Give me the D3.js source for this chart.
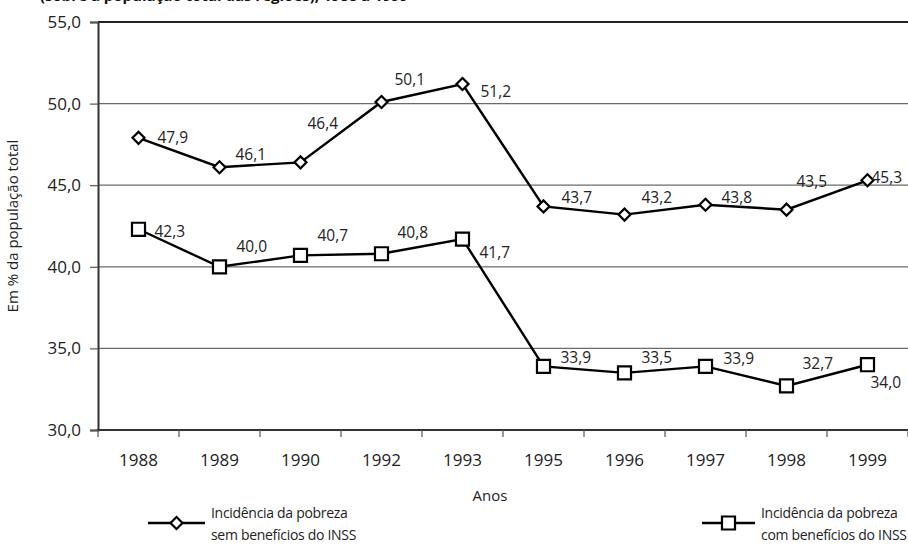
<!DOCTYPE html>
<html>
<head>
<meta charset="utf-8">
<script src="https://cdn.jsdelivr.net/npm/d3@7"></script>
<style>
  body { margin: 0; background: #fff; }
  svg { display: block; font-family: "Open Sans", sans-serif; }
</style>
</head>
<body>
<svg id="chart" width="908" height="547"></svg>
<script>
// data
const years = ["1988", "1989", "1990", "1992", "1993", "1995", "1996", "1997", "1998", "1999"];
const semINSS = [47.9, 46.1, 46.4, 50.1, 51.2, 43.7, 43.2, 43.8, 43.5, 45.3];
const comINSS = [42.3, 40.0, 40.7, 40.8, 41.7, 33.9, 33.5, 33.9, 32.7, 34.0];
const yTicks = [30, 35, 40, 45, 50, 55];

// label offsets (relative to the point), left-aligned text
const semOffsets = [[19, 0], [16, -13], [7, -39], [13, -22], [18, 8], [18, -9], [17, -17], [16, -7], [10, -28], [4, -3]];
const comOffsets = [[16, 2], [17, -20], [17, -20], [16, -21], [17, 14], [17, -9], [17, -15], [18, -8], [16, -22], [3, 18]];

const ptBR = d3.formatLocale({ decimal: ",", thousands: ".", grouping: [3], currency: ["R$", ""] });
const fmt = ptBR.format(".1f");

const svg = d3.select("#chart");
const margin = { top: 22, right: 0, bottom: 117, left: 98 };
const W = 908, H = 547;

const x = d3.scaleBand().domain(years).range([margin.left, W - margin.right]);
const y = d3.scaleLinear().domain([30, 55]).range([H - margin.bottom, margin.top]);

// cut-off title at the very top (the reference shows only its lower edge)
svg.append("text")
    .attr("x", 40).attr("y", 1)
    .attr("font-size", 15).attr("font-weight", "bold").attr("fill", "#111")
    .text("(sobre a população total das regiões), 1988 a 1999");

// gridlines
svg.append("g")
    .selectAll("line")
    .data(yTicks.filter(v => v > 30 && v < 55))
    .join("line")
    .attr("x1", margin.left).attr("x2", W)
    .attr("y1", d => y(d)).attr("y2", d => y(d))
    .attr("stroke", "#6b6b6b").attr("stroke-width", 1.2);

// top border at 55
svg.append("line")
    .attr("x1", margin.left).attr("x2", W)
    .attr("y1", y(55)).attr("y2", y(55))
    .attr("stroke", "#222").attr("stroke-width", 2);

// y axis
const yAxis = svg.append("g")
    .attr("transform", `translate(${margin.left},0)`)
    .call(d3.axisLeft(y).tickValues(yTicks).tickFormat(fmt).tickSize(8).tickPadding(9));
yAxis.select(".domain").attr("stroke", "#333").attr("stroke-width", 2);
yAxis.selectAll(".tick line").attr("stroke", "#555").attr("stroke-width", 1.2);
yAxis.selectAll("text").attr("font-size", 17).attr("fill", "#222").attr("font-family", "Open Sans");

// x axis
const xAxis = svg.append("g")
    .attr("transform", `translate(0,${y(30)})`)
    .call(d3.axisBottom(x).tickSize(0).tickPadding(24));
xAxis.select(".domain").remove();
xAxis.selectAll("text").attr("font-size", 17).attr("fill", "#222").attr("font-family", "Open Sans");
svg.append("line")
    .attr("x1", margin.left - 1).attr("x2", W)
    .attr("y1", y(30)).attr("y2", y(30))
    .attr("stroke", "#333").attr("stroke-width", 2);
// tick marks between categories
svg.append("g")
    .selectAll("line")
    .data(years.map(d => x(d)).concat([x.range()[1]]))
    .join("line")
    .attr("x1", d => d).attr("x2", d => d)
    .attr("y1", y(30)).attr("y2", y(30) + 7)
    .attr("stroke", "#555").attr("stroke-width", 1.2);

// axis titles
svg.append("text")
    .attr("x", x.range()[0] + (x.range()[1] - x.range()[0]) / 2 - 13)
    .attr("y", 501)
    .attr("text-anchor", "middle")
    .attr("font-size", 15).attr("fill", "#222")
    .text("Anos");

svg.append("text")
    .attr("transform", `translate(18,${(y(30) + y(55)) / 2}) rotate(-90)`)
    .attr("text-anchor", "middle")
    .attr("font-size", 15).attr("fill", "#222")
    .text("Em % da população total");

const cx = d => x(d) + x.bandwidth() / 2;
const line = d3.line().x(d => cx(d.year)).y(d => y(d.v));

const diamond = d3.symbol().type(d3.symbolSquare).size(72)();
const square = d3.symbol().type(d3.symbolSquare).size(170)();

function drawSeries(vals, offsets, marker, rot) {
    const pts = years.map((yr, i) => ({ year: yr, v: vals[i], off: offsets[i] }));
    svg.append("path")
        .datum(pts)
        .attr("d", line)
        .attr("fill", "none")
        .attr("stroke", "#000")
        .attr("stroke-width", 2.4);
    svg.append("g")
        .selectAll("path")
        .data(pts)
        .join("path")
        .attr("d", marker)
        .attr("transform", d => `translate(${cx(d.year)},${y(d.v)}) rotate(${rot})`)
        .attr("fill", "#fff")
        .attr("stroke", "#000")
        .attr("stroke-width", 2.2);
    svg.append("g")
        .selectAll("text")
        .data(pts)
        .join("text")
        .attr("x", d => cx(d.year) + d.off[0])
        .attr("y", d => y(d.v) + d.off[1])
        .attr("dy", "0.35em")
        .attr("font-size", 15.5)
        .attr("fill", "#222")
        .text(d => fmt(d.v));
}

drawSeries(semINSS, semOffsets, diamond, 45);
drawSeries(comINSS, comOffsets, square, 0);

// legend
const legend = [
    { x1: 148, x2: 205, marker: diamond, rot: 45, lines: ["Incidência da pobreza", "sem benefícios do INSS"] },
    { x1: 702, x2: 755, marker: square, rot: 0, lines: ["Incidência da pobreza", "com benefícios do INSS"] }
];
const lg = svg.append("g").selectAll("g").data(legend).join("g");
lg.append("line")
    .attr("x1", d => d.x1).attr("x2", d => d.x2)
    .attr("y1", 523).attr("y2", 523)
    .attr("stroke", "#000").attr("stroke-width", 2.4);
lg.append("path")
    .attr("d", d => d.marker)
    .attr("transform", d => `translate(${(d.x1 + d.x2) / 2},523) rotate(${d.rot})`)
    .attr("fill", "#fff").attr("stroke", "#000").attr("stroke-width", 2.2);
lg.append("text")
    .attr("x", d => d.x2 + 6)
    .attr("y", 513)
    .attr("font-size", 14).attr("letter-spacing", -0.3).attr("fill", "#222")
    .selectAll("tspan")
    .data(d => d.lines)
    .join("tspan")
    .attr("x", function () { return d3.select(this.parentNode).attr("x"); })
    .attr("dy", (d, i) => i === 0 ? "0.35em" : "1.6em")
    .text(d => d);
</script>
</body>
</html>
